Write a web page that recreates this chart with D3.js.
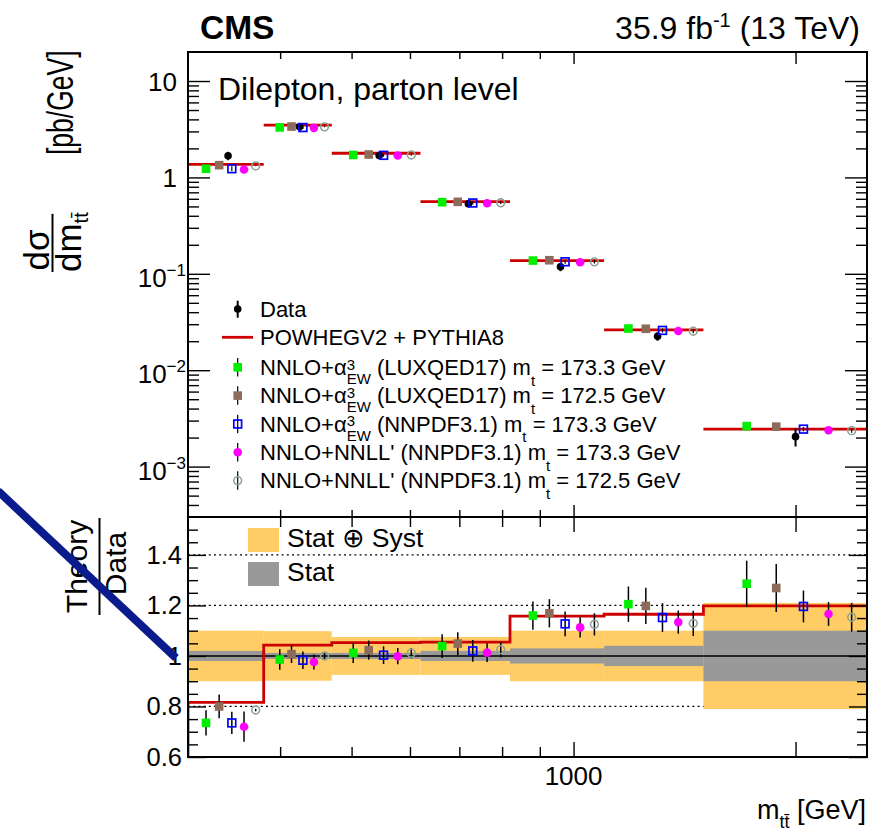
<!DOCTYPE html>
<html><head><meta charset="utf-8">
<script src="https://cdn.jsdelivr.net/npm/d3@7"></script>
<style>
body{margin:0;background:#fff}
svg{display:block}
text{font-family:"Liberation Sans",Arial,Helvetica,sans-serif;white-space:pre;fill:#000}
</style>
</head><body>
<svg id="c" width="873" height="832"></svg>
<script>
// ---------------- data ----------------
const binEdges = [300, 380, 470, 620, 820, 1100, 1500, 2500];
const xMajorTicks = [1000, 2000];
const xMinorTicks = [400, 500, 600, 700, 800, 900];
const xTickLabels = ["1000"];
const yUpperMajor = [1e-3, 1e-2, 1e-1, 1, 10];
const yUpperLabels = [["10","−3"], ["10","−2"], ["10","−1"], ["1",""], ["10",""]];
const yRatioMajor = [0.6, 0.8, 1.0, 1.2, 1.4];
const yRatioLabels = ["0.6", "0.8", "1", "1.2", "1.4"];

const dataXsec = [1.675, 3.347, 1.69, 0.532, 0.1183, 0.02246, 0.002046];
const totUnc  = [0.10, 0.098, 0.075, 0.075, 0.10, 0.10, 0.21];
const statUnc = [0.02, 0.012, 0.012, 0.02, 0.03, 0.04, 0.10];

const powhegXsec  = [1.367, 3.491, 1.780, 0.561, 0.1370, 0.02617, 0.002451];
const powhegRatio = [0.816, 1.043, 1.053, 1.055, 1.158, 1.165, 1.198];

const luxqed1733Xsec  = [1.231, 3.300, 1.710, 0.553, 0.1372, 0.02706, 0.002631];
const luxqed1733Ratio = [0.735, 0.986, 1.012, 1.039, 1.160, 1.205, 1.286];
const luxqed1733Err   = [0.050, 0.041, 0.040, 0.047, 0.056, 0.070, 0.091];

const luxqed1725Xsec  = [1.340, 3.370, 1.729, 0.558, 0.1383, 0.02691, 0.002596];
const luxqed1725Ratio = [0.800, 1.007, 1.023, 1.049, 1.169, 1.198, 1.269];
const luxqed1725Err   = [0.047, 0.035, 0.038, 0.045, 0.056, 0.072, 0.095];

const nnpdfEw1733Xsec  = [1.231, 3.290, 1.695, 0.543, 0.1333, 0.02587, 0.002447];
const nnpdfEw1733Ratio = [0.735, 0.983, 1.003, 1.020, 1.127, 1.152, 1.196];
const nnpdfEw1733Err   = [0.044, 0.035, 0.035, 0.043, 0.049, 0.057, 0.063];

const nnll1733Xsec  = [1.206, 3.267, 1.688, 0.539, 0.1317, 0.02547, 0.002386];
const nnll1733Ratio = [0.720, 0.976, 0.999, 1.013, 1.113, 1.134, 1.166];
const nnll1733Err   = [0.060, 0.030, 0.032, 0.037, 0.040, 0.046, 0.047];

const nnll1725Xsec  = [1.317, 3.347, 1.709, 0.545, 0.1331, 0.02536, 0.002359];
const nnll1725Ratio = [0.786, 1.000, 1.011, 1.025, 1.125, 1.129, 1.153];
const nnll1725Err   = [0.005, 0.012, 0.020, 0.030, 0.044, 0.050, 0.057];

// ---------------- setup ----------------
const svg = d3.select("#c");
svg.append("rect").attr("width",873).attr("height",832).attr("fill","#fff");
const L=188, R=867, T=52, MID=517, B=757;
const x  = d3.scaleLog().domain([300,2500]).range([L,R]);
const yU = d3.scaleLog().domain([3e-4,20]).range([MID,T]);
const yR = d3.scaleLinear().domain([0.6,1.55]).range([B,MID]);

const defs = svg.append("defs");
defs.append("clipPath").attr("id","clipU").append("rect").attr("x",L).attr("y",T).attr("width",R-L).attr("height",MID-T);
defs.append("clipPath").attr("id","clipR").append("rect").attr("x",L).attr("y",MID).attr("width",R-L).attr("height",B-MID);

const RED="#cc0000";
const series = [
  {color:"#00ee00", shape:"square", filled:true,  frac:0.217, xsec:luxqed1733Xsec, ratio:luxqed1733Ratio, err:luxqed1733Err,
   label:[{t:"NNLO+α"},{t:"3",sup:1,stack:1},{t:"EW",sub:1,dy:9},{t:" (LUXQED17) m"},{t:"t",sub:1,dy:10.5},{t:" = 173.3 GeV"}]},
  {color:"#8c6b5b", shape:"square", filled:true,  frac:0.383, xsec:luxqed1725Xsec, ratio:luxqed1725Ratio, err:luxqed1725Err,
   label:[{t:"NNLO+α"},{t:"3",sup:1,stack:1},{t:"EW",sub:1,dy:9},{t:" (LUXQED17) m"},{t:"t",sub:1,dy:10.5},{t:" = 172.5 GeV"}]},
  {color:"#0000ff", shape:"square", filled:false, frac:0.550, xsec:nnpdfEw1733Xsec, ratio:nnpdfEw1733Ratio, err:nnpdfEw1733Err,
   label:[{t:"NNLO+α"},{t:"3",sup:1,stack:1},{t:"EW",sub:1,dy:9},{t:" (NNPDF3.1) m"},{t:"t",sub:1,dy:10.5},{t:" = 173.3 GeV"}]},
  {color:"#ff00ff", shape:"circle", filled:true,  frac:0.717, xsec:nnll1733Xsec, ratio:nnll1733Ratio, err:nnll1733Err,
   label:[{t:"NNLO+NNLL' (NNPDF3.1) m"},{t:"t",sub:1,dy:10.5},{t:" = 173.3 GeV"}]},
  {color:"#8ea596", shape:"circle", filled:false, frac:0.883, xsec:nnll1725Xsec, ratio:nnll1725Ratio, err:nnll1725Err,
   label:[{t:"NNLO+NNLL' (NNPDF3.1) m"},{t:"t",sub:1,dy:10.5},{t:" = 172.5 GeV"}]}
];

function xAt(i, f){ return x(binEdges[i] + f*(binEdges[i+1]-binEdges[i])); }

function marker(g, s, cx, cy){
  if(s.shape==="square"){
    const h = s.filled ? 4.3 : 3.9;
    g.append("rect").attr("x",cx-h).attr("y",cy-h).attr("width",2*h).attr("height",2*h)
      .attr("fill", s.filled ? s.color : "none").attr("stroke", s.color).attr("stroke-width", s.filled?0:1.7);
  } else {
    g.append("circle").attr("cx",cx).attr("cy",cy).attr("r", s.filled?4.3:3.9)
      .attr("fill", s.filled ? s.color : "none").attr("stroke", s.color).attr("stroke-width", s.filled?0:1.6);
  }
}

function rich(parent, parts, size, x0, y0, anchor){
  const g = parent.append("g");
  let cx = 0, pending = 0;
  parts.forEach(p=>{
    const small = p.sup||p.sub;
    const fs = p.fs || (small ? size*0.68 : size);
    let dy = p.sup ? -size*0.25 : p.sub ? size*0.45 : 0;
    if(p.dy!==undefined) dy = p.dy;
    const t = g.append("text").attr("x",cx).attr("y",dy).attr("font-size",fs).text(p.t);
    if(p.bold) t.attr("font-weight","bold");
    const w = t.node().getComputedTextLength();
    if(p.stack){ pending = w; } else { cx += Math.max(w,pending); pending = 0; }
  });
  const ox = anchor==="end" ? x0-cx : anchor==="middle" ? x0-cx/2 : x0;
  g.attr("transform",`translate(${ox},${y0})`);
  return g;
}

// ---------------- ratio panel ----------------
const gR = svg.append("g").attr("clip-path","url(#clipR)");
[0.8,1.2,1.4].forEach(v=>{
  gR.append("line").attr("x1",L).attr("x2",R).attr("y1",yR(v)).attr("y2",yR(v))
    .attr("stroke","#000").attr("stroke-width",1.3).attr("stroke-dasharray","2,3.2");
});
binEdges.slice(0,-1).forEach((e,i)=>{
  gR.append("rect").attr("x",x(e)).attr("width",x(binEdges[i+1])-x(e))
    .attr("y",yR(1+totUnc[i])).attr("height",yR(1-totUnc[i])-yR(1+totUnc[i])).attr("fill","#ffcc66");
});
binEdges.slice(0,-1).forEach((e,i)=>{
  gR.append("rect").attr("x",x(e)).attr("width",x(binEdges[i+1])-x(e))
    .attr("y",yR(1+statUnc[i])).attr("height",yR(1-statUnc[i])-yR(1+statUnc[i])).attr("fill","#999999");
});
gR.append("line").attr("x1",L).attr("x2",R).attr("y1",yR(1)).attr("y2",yR(1)).attr("stroke","#000").attr("stroke-width",1.5);
const stepPts = [{e:binEdges[0], v:0.5}].concat(powhegRatio.map((v,i)=>({e:binEdges[i],v})), [{e:binEdges[binEdges.length-1], v:powhegRatio[powhegRatio.length-1]}]);
gR.append("path").attr("d", d3.line().x(d=>x(d.e)).y(d=>yR(d.v)).curve(d3.curveStepAfter)(stepPts))
  .attr("fill","none").attr("stroke",RED).attr("stroke-width",2.8);
series.forEach(s=>{
  s.ratio.forEach((v,i)=>{
    const cx = xAt(i, s.frac);
    gR.append("line").attr("x1",cx).attr("x2",cx).attr("y1",yR(v-s.err[i])).attr("y2",yR(v+s.err[i]))
      .attr("stroke","#000").attr("stroke-width",1.5);
    marker(gR, s, cx, yR(v));
  });
});

// ---------------- upper panel ----------------
const gU = svg.append("g").attr("clip-path","url(#clipU)");
powhegXsec.forEach((v,i)=>{
  gU.append("line").attr("x1",x(binEdges[i])).attr("x2",x(binEdges[i+1])).attr("y1",yU(v)).attr("y2",yU(v))
    .attr("stroke",RED).attr("stroke-width",2.8);
});
dataXsec.forEach((v,i)=>{
  const cx = xAt(i,0.5);
  gU.append("line").attr("x1",cx).attr("x2",cx).attr("y1",yU(v*(1-totUnc[i]))).attr("y2",yU(v*(1+totUnc[i])))
    .attr("stroke","#000").attr("stroke-width",2);
  gU.append("circle").attr("cx",cx).attr("cy",yU(v)).attr("r",3.8).attr("fill","#000");
});
series.forEach(s=>{
  s.xsec.forEach((v,i)=>{
    const cx = xAt(i, s.frac);
    const rel = s.err[i]/s.ratio[i];
    gU.append("line").attr("x1",cx).attr("x2",cx).attr("y1",yU(v*(1-rel))).attr("y2",yU(v*(1+rel)))
      .attr("stroke","#000").attr("stroke-width",1.2);
    marker(gU, s, cx, yU(v));
  });
});

// ---------------- axes / ticks ----------------
function ticksY(scale, vals, len, side){
  const ax = side==="left" ? d3.axisRight(scale) : d3.axisLeft(scale);
  const g = svg.append("g").attr("transform",`translate(${side==="left"?L:R},0)`)
    .call(ax.tickValues(vals).tickSize(len).tickSizeOuter(0).tickFormat(""));
  g.select(".domain").remove();
  g.selectAll("line").attr("stroke","#000").attr("stroke-width",1.4);
}
function ticksX(vals, len, yPos, dir){
  const ax = dir==="down" ? d3.axisBottom(x) : d3.axisTop(x);
  const g = svg.append("g").attr("transform",`translate(0,${yPos})`)
    .call(ax.tickValues(vals).tickSize(len).tickSizeOuter(0).tickFormat(""));
  g.select(".domain").remove();
  g.selectAll("line").attr("stroke","#000").attr("stroke-width",1.4);
}
const uMinor = [];
for(let k=-4;k<=1;k++) for(let m=2;m<=9;m++){ const v=m*Math.pow(10,k); if(v>3.01e-4 && v<19.9) uMinor.push(v); }
ticksY(yU, yUpperMajor, 22, "left"); ticksY(yU, uMinor, 11, "left");
ticksY(yU, yUpperMajor, 22, "right"); ticksY(yU, uMinor, 11, "right");
const rMinor = d3.range(0.65,1.55,0.05).filter(v=>Math.abs(v-Math.round(v*5)/5)>0.01);
ticksY(yR, yRatioMajor, 18, "left"); ticksY(yR, rMinor, 10, "left");
ticksY(yR, yRatioMajor, 18, "right"); ticksY(yR, rMinor, 10, "right");
ticksX(xMinorTicks, 7, T, "down"); ticksX(xMajorTicks, 12, T, "down");
ticksX(xMinorTicks, 7, MID, "up"); ticksX(xMajorTicks, 12, MID, "up");
ticksX(xMinorTicks, 10, MID, "down"); ticksX(xMajorTicks, 15, MID, "down");
ticksX(xMinorTicks, 10, B, "up"); ticksX(xMajorTicks, 15, B, "up");

svg.append("rect").attr("x",L).attr("y",T).attr("width",R-L).attr("height",MID-T).attr("fill","none").attr("stroke","#000").attr("stroke-width",2);
svg.append("rect").attr("x",L).attr("y",MID).attr("width",R-L).attr("height",B-MID).attr("fill","none").attr("stroke","#000").attr("stroke-width",2);

// tick labels
yUpperMajor.forEach((v,i)=>{
  const [base, ex] = yUpperLabels[i];
  if(ex){
    rich(svg, [{t:base},{t:ex,sup:1,fs:17,dy:-11}], 26, 186, yU(v)+13, "end");
  } else {
    rich(svg, [{t:base}], 26, 177, yU(v)+9.5, "end");
  }
});
yRatioMajor.forEach((v,i)=>{
  svg.append("text").attr("x",182).attr("y",yR(v)+9).attr("text-anchor","end").attr("font-size",25.5).text(yRatioLabels[i]);
});
svg.append("text").attr("x",x(1000)).attr("y",785).attr("text-anchor","middle").attr("font-size",26).text(xTickLabels[0]);

// x title
rich(svg, [{t:"m"},{t:"tt\u0304",sub:1,fs:18,dy:9},{t:" [GeV]"}], 27, 866, 819, "end");

// y title upper (rotated)
const yt = svg.append("g").attr("transform","translate(0,272) rotate(-90)");
const den = rich(yt, [{t:"dm"},{t:"tt\u0304",sub:1,fs:20,dy:7}], 35, 0, 80.5, "start");
const denW = den.node().getBBox().width;
yt.append("text").attr("x",denW/2 - 8).attr("y",48.5).attr("text-anchor","middle").attr("font-size",35).text("dσ");
yt.append("line").attr("x1",0).attr("x2",denW-2).attr("y1",52.5).attr("y2",52.5).attr("stroke","#000").attr("stroke-width",2);
yt.append("text").attr("transform","translate(117,73) scale(1,1.42)").attr("font-size",26.5).text("[pb/GeV]");

// y title ratio (rotated)
const rt = svg.append("g").attr("transform","translate(0,615) rotate(-90)");
rt.append("text").attr("x",48.5).attr("y",87).attr("text-anchor","middle").attr("font-size",30).text("Theory");
rt.append("line").attr("x1",0).attr("x2",97).attr("y1",99.5).attr("y2",99.5).attr("stroke","#000").attr("stroke-width",2);
rt.append("text").attr("x",51.5).attr("y",126).attr("text-anchor","middle").attr("font-size",30).text("Data");

// header texts
svg.append("text").attr("x",200).attr("y",38.5).attr("font-size",33.5).attr("font-weight","bold").text("CMS");
rich(svg, [{t:"35.9 fb"},{t:"-1",sup:1,fs:20,dy:-12},{t:" (13 TeV)"}], 32, 860, 38.5, "end");
svg.append("text").attr("x",218).attr("y",100).attr("font-size",32).text("Dilepton, parton level");

// legend upper
const legY = [316.7, 345, 375, 403.3, 431.7, 460, 488.3];
const lx = 237.7, tx = 260, lfs = 22;
svg.append("line").attr("x1",lx).attr("x2",lx).attr("y1",legY[0]-16).attr("y2",legY[0]+1).attr("stroke","#000").attr("stroke-width",2);
svg.append("circle").attr("cx",lx).attr("cy",legY[0]-7.7).attr("r",3.8).attr("fill","#000");
rich(svg, [{t:"Data"}], lfs, tx, legY[0], "start");
svg.append("line").attr("x1",222).attr("x2",253).attr("y1",legY[1]-7.7).attr("y2",legY[1]-7.7).attr("stroke",RED).attr("stroke-width",2.8);
rich(svg, [{t:"POWHEGV2 + PYTHIA8"}], lfs, tx, legY[1], "start");
series.forEach((s,k)=>{
  const yy = legY[k+2];
  svg.append("line").attr("x1",lx).attr("x2",lx).attr("y1",yy-17).attr("y2",yy+1.5).attr("stroke","#000").attr("stroke-width",1.2);
  marker(svg, s, lx, yy-7.7);
  rich(svg, s.label, lfs, tx, yy, "start");
});

// ratio legend
svg.append("rect").attr("x",248).attr("y",528).attr("width",31).attr("height",24).attr("fill","#ffcc66");
svg.append("text").attr("x",287).attr("y",547).attr("font-size",26.5).text("Stat ⊕ Syst");
svg.append("rect").attr("x",248).attr("y",562).attr("width",31).attr("height",24).attr("fill","#999999");
svg.append("text").attr("x",287).attr("y",581).attr("font-size",26.5).text("Stat");

// navy stroke on the left
svg.append("line").attr("x1",-2).attr("y1",491).attr("x2",176).attr("y2",658)
  .attr("stroke","#0a1c8c").attr("stroke-width",8);
</script>
</body></html>
